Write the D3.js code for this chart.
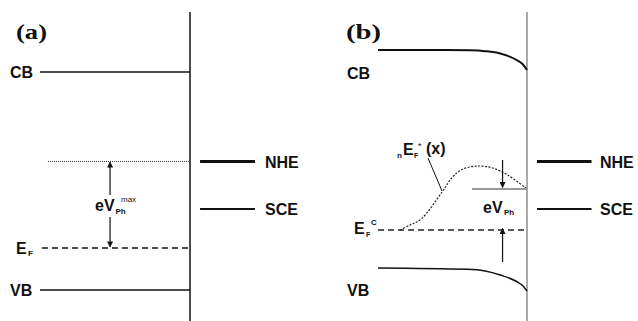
<!DOCTYPE html>
<html>
<head>
<meta charset="utf-8">
<script src="https://cdn.jsdelivr.net/npm/d3@7/dist/d3.min.js"></script>
<style>
  body { margin: 0; background: #fff; }
  svg { display: block; }
  .lbl { font-family: "Liberation Sans", Arial, sans-serif; font-weight: bold; fill: #111; }
  .ttl { font-family: "Liberation Serif", "Times New Roman", serif; font-weight: bold; fill: #111; }
</style>
</head>
<body>
<svg id="chart" width="638" height="321"></svg>
<script>
// energies in arbitrary units (higher = up), positions: 0 = bulk edge, 1 = interface
var titles = ['(a)', '(b)'];
var refNames = ['NHE', 'SCE'];
var refEnergy = [13.85, 9.1];
var refWidth = [3, 2];
var refSpan = [1.067, 1.433];

// panel (a): flat bands
var bandNamesA = ['CB', 'VB'];
var bandEnergyA = [22.8, 1.0];
var fermiA = 5.2;
var photoMaxA = 13.85;

// panel (b): band bending
var cbPosB = [0, 0.45, 0.62, 0.72, 0.82, 0.93, 0.97, 1];
var cbEnergyB = [25, 25, 24.97, 24.88, 24.65, 24.0, 23.6, 23.0];
var vbPosB = [0, 0.6, 0.72, 0.82, 0.93, 0.97, 1];
var vbEnergyB = [3.2, 3.07, 2.9, 2.5, 1.85, 1.45, 0.9];
var qfPosB = [0.148, 0.215, 0.29, 0.43, 0.5, 0.57, 0.68, 0.77, 0.87, 1];
var qfEnergyB = [7.0, 7.5, 8.1, 10.8, 12.3, 13.1, 13.4, 13.2, 12.5, 11.1];
var fermiB = 7.0;
var surfaceB = 11.1;

var svg = d3.select('#chart');
var y = d3.scaleLinear().domain([0, 30]).range([300, 0]);
var xA = d3.scaleLinear().domain([0, 1]).range([40, 190]);
var xB = d3.scaleLinear().domain([0, 1]).range([378, 527]);

svg.append('defs').append('marker')
    .attr('id', 'head')
    .attr('viewBox', '0 0 10 10')
    .attr('refX', 9).attr('refY', 5)
    .attr('markerWidth', 7).attr('markerHeight', 6)
    .attr('markerUnits', 'userSpaceOnUse')
    .attr('orient', 'auto')
  .append('path').attr('d', 'M0,0 L10,5 L0,10 Z').attr('fill', '#111');

function hline(x, x0, x1, e, w, col, dash) {
    return svg.append('line')
        .attr('x1', x(x0)).attr('x2', x(x1))
        .attr('y1', y(e)).attr('y2', y(e))
        .attr('stroke', col || '#111').attr('stroke-width', w)
        .attr('stroke-dasharray', dash || null);
}
function arrow(x, xp, e0, e1) {
    svg.append('line')
        .attr('x1', x(xp)).attr('x2', x(xp))
        .attr('y1', y(e0)).attr('y2', y(e1))
        .attr('stroke', '#111').attr('stroke-width', 1.2)
        .attr('marker-end', 'url(#head)');
}
function text(str, px, py, size, cls, weight) {
    return svg.append('text').attr('class', cls || 'lbl')
        .attr('x', px).attr('y', py)
        .style('font-size', size + 'px')
        .style('font-weight', weight || null)
        .text(str);
}

// ---------- panel (a)
svg.append('line').attr('x1', xA(1)).attr('x2', xA(1)).attr('y1', 12).attr('y2', 321)
    .attr('stroke', '#111').attr('stroke-width', 1.5);
bandEnergyA.forEach(function(e, i) {
    hline(xA, 0, 1, e, 1.5);
    text(bandNamesA[i], 10, y(e) + 6, 16);
});
hline(xA, 0.013, 1, fermiA, 1.5, '#111', '6,4');
hline(xA, 0.053, 1, photoMaxA, 1, '#333', '1,1');
refEnergy.forEach(function(e, i) {
    hline(xA, refSpan[0], refSpan[1], e, refWidth[i]);
    text(refNames[i], 265, y(e) + 6, 16);
});
arrow(xA, 0.467, 10.5, photoMaxA - 0.05);
arrow(xA, 0.467, 8.3, fermiA + 0.1);
text('E', 16, y(fermiA) + 6, 16);
text('F', 28, y(fermiA) + 8, 8);
text('eV', 95, 210.5, 16);
text('Ph', 115.5, 213.5, 8);
text('max', 121, 202, 8, 'lbl', 'normal');
text(titles[0], 16, 39, 22, 'ttl').attr('textLength', 31).attr('lengthAdjust', 'spacingAndGlyphs');

// ---------- panel (b)
svg.append('line').attr('x1', xB(1)).attr('x2', xB(1)).attr('y1', 12).attr('y2', 321)
    .attr('stroke', '#555').attr('stroke-width', 1);
var band = d3.line().x(function(d) { return xB(d[0]); }).y(function(d) { return y(d[1]); })
    .curve(d3.curveMonotoneX);
svg.append('path').attr('d', band(d3.zip(cbPosB, cbEnergyB)))
    .attr('fill', 'none').attr('stroke', '#111').attr('stroke-width', 2);
svg.append('path').attr('d', band(d3.zip(vbPosB, vbEnergyB)))
    .attr('fill', 'none').attr('stroke', '#111').attr('stroke-width', 1.5);
var smooth = d3.line().x(function(d) { return xB(d[0]); }).y(function(d) { return y(d[1]); })
    .curve(d3.curveCatmullRom);
svg.append('path').attr('d', smooth(d3.zip(qfPosB, qfEnergyB)))
    .attr('fill', 'none').attr('stroke', '#222').attr('stroke-width', 1.2).attr('stroke-dasharray', '2,1.5');
hline(xB, 0, 1, fermiB, 1.3, '#222', '6,4');
hline(xB, 0.631, 1, surfaceB, 2, '#999');
refEnergy.forEach(function(e, i) {
    hline(xB, refSpan[0], refSpan[1], e, refWidth[i]);
    text(refNames[i], 600, y(e) + 6, 16);
});
arrow(xB, 0.836, 14.0, surfaceB + 0.15);
arrow(xB, 0.836, 3.8, fermiB + 0.15);
svg.append('line').attr('x1', 428).attr('y1', 158).attr('x2', 442).attr('y2', 191)
    .attr('stroke', '#111').attr('stroke-width', 1);

text('CB', 347, y(cbEnergyB[0]) + 29, 16);
text('VB', 347, y(vbEnergyB[0]) + 28, 16);
text('E', 354, y(fermiB) + 4, 16);
text('F', 366, y(fermiB) + 6.5, 7);
text('C', 371, y(fermiB) - 5, 8);
text('eV', 483, 212.5, 16);
text('Ph', 504, 215, 8);
text('n', 397, 158, 8);
text('E', 403, 155, 16);
text('F', 414, 158, 7);
text('*', 418, 149, 9, 'lbl', 'normal');
text('(x)', 426, 154, 16);
text(titles[1], 346, 39, 22, 'ttl').attr('textLength', 35).attr('lengthAdjust', 'spacingAndGlyphs');
</script>
</body>
</html>
